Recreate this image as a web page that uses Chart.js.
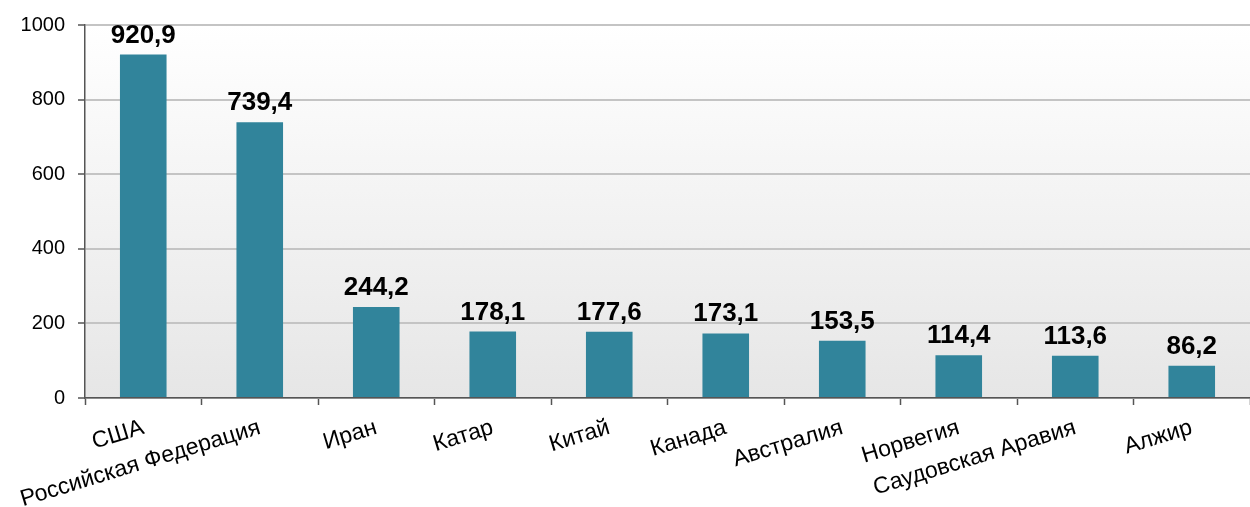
<!DOCTYPE html>
<html lang="ru">
<head>
<meta charset="utf-8">
<title>Chart</title>
<script src="https://cdn.jsdelivr.net/npm/chart.js@4/dist/chart.umd.min.js"></script>
<style>
  html, body { margin: 0; padding: 0; background: #ffffff; }
  #gasChart { display: block; }
</style>
</head>
<body>
<canvas id="gasChart" width="1250" height="507"></canvas>
<script>
const countries = ["США", "Российская Федерация", "Иран", "Катар", "Китай", "Канада", "Австралия", "Норвегия", "Саудовская Аравия", "Алжир"];
const production = [920.9, 739.4, 244.2, 178.1, 177.6, 173.1, 153.5, 114.4, 113.6, 86.2];
const yTicks = [0, 200, 400, 600, 800, 1000];

const barColor = "#31849B";
let chart;
let ctx;

// gradient behind the plot area, white at the top -> light grey at the bottom
const plotBackground = {
  id: "plotBackground",
  beforeDraw: function (c) {
    const area = c.chartArea;
    const g = c.ctx.createLinearGradient(0, area.top, 0, area.bottom);
    g.addColorStop(0, "#ffffff");
    g.addColorStop(1, "#e6e6e6");
    c.ctx.save();
    c.ctx.fillStyle = g;
    c.ctx.fillRect(area.left, area.top, area.right - area.left, area.bottom - area.top);
    c.ctx.restore();
  }
};

// values above the bars
const valueLabels = {
  id: "valueLabels",
  afterDatasetsDraw: function (c) {
    const meta = c.getDatasetMeta(0);
    c.ctx.save();
    c.ctx.font = "bold 26px 'Liberation Sans', Arial, sans-serif";
    c.ctx.fillStyle = "#000000";
    c.ctx.textAlign = "center";
    c.ctx.textBaseline = "alphabetic";
    meta.data.forEach(function (bar, i) {
      const txt = production[i].toFixed(1).replace(".", ",");
      c.ctx.fillText(txt, bar.x, bar.y - 12);
    });
    c.ctx.restore();
  }
};

const drawChart = function () {
  ctx = document.getElementById("gasChart").getContext("2d");
  chart = new Chart(ctx, {
    type: "bar",
    data: {
      labels: countries,
      datasets: [{
        data: production,
        backgroundColor: barColor,
        borderWidth: 0,
        barPercentage: 0.4,
        categoryPercentage: 1.0
      }]
    },
    options: {
      responsive: false,
      animation: false,
      layout: { padding: { top: 25, left: 0, right: 0, bottom: 0 } },
      plugins: {
        legend: { display: false },
        tooltip: { enabled: false }
      },
      scales: {
        x: {
          offset: true,
          grid: {
            offset: true,
            drawOnChartArea: false,
            drawTicks: true,
            tickLength: 7,
            tickColor: "#555555",
            tickWidth: 1.5
          },
          border: { color: "#555555", width: 1.5 },
          ticks: {
            autoSkip: false,
            maxRotation: 17,
            minRotation: 17,
            padding: 9,
            color: "#000000",
            font: { family: "'Liberation Sans', Arial, sans-serif", size: 23 }
          },
          afterFit: function (scale) { scale.height = 109; }
        },
        y: {
          min: 0,
          max: 1000,
          afterBuildTicks: function (scale) {
            scale.ticks = yTicks.map(function (v) { return { value: v }; });
          },
          grid: {
            color: "#c4c4c4",
            lineWidth: 2,
            drawTicks: true,
            tickLength: 7,
            tickColor: "#555555",
            tickWidth: 1.5
          },
          border: { color: "#555555", width: 1.5 },
          ticks: {
            padding: 13,
            color: "#000000",
            font: { family: "'Liberation Sans', Arial, sans-serif", size: 20 },
            callback: function (value) { return String(value); }
          },
          afterFit: function (scale) { scale.width = 85; }
        }
      }
    },
    plugins: [plotBackground, valueLabels]
  });
};

document.addEventListener("DOMContentLoaded", function () {
  drawChart();
});
</script>
</body>
</html>
